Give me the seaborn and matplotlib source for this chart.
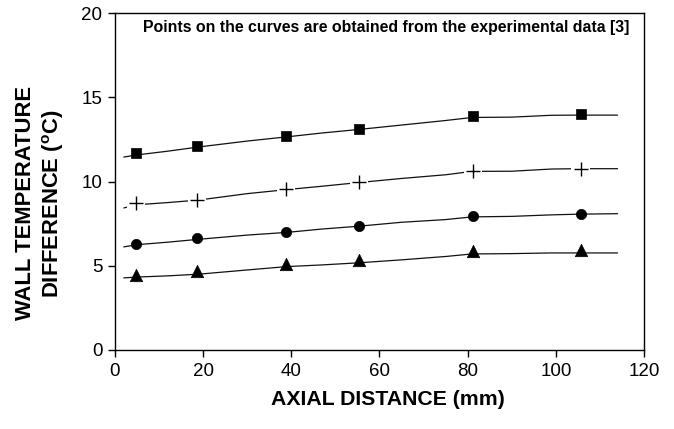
import matplotlib
matplotlib.use("Agg")
import matplotlib.pyplot as plt
import seaborn as sns
import pandas as pd

# Measured points (axial position in mm, wall temperature difference in °C)
axial_pts = [4.8, 18.6, 38.7, 55.3, 81.2, 105.6]
squares = [11.67, 12.08, 12.71, 13.13, 13.86, 14.02]
crosses = [8.70, 8.92, 9.57, 9.97, 10.64, 10.76]
circles = [6.31, 6.63, 7.00, 7.38, 7.93, 8.05]
triangles = [4.47, 4.71, 5.13, 5.32, 5.86, 5.96]

# Computed curves
axial_curve = [2, 5, 12, 19, 30, 39, 47, 55, 65, 75, 81, 90, 99, 105, 114]
curve_sq = [11.45, 11.58, 11.80, 12.05, 12.40, 12.65, 12.88, 13.08, 13.35, 13.62, 13.80, 13.82, 13.93, 13.94, 13.94]
curve_cr = [8.43, 8.62, 8.75, 8.90, 9.28, 9.52, 9.72, 9.93, 10.18, 10.40, 10.60, 10.61, 10.74, 10.76, 10.76]
curve_ci = [6.12, 6.25, 6.40, 6.57, 6.82, 6.98, 7.18, 7.34, 7.58, 7.74, 7.90, 7.93, 8.02, 8.06, 8.09]
curve_tr = [4.28, 4.33, 4.40, 4.50, 4.75, 4.95, 5.05, 5.17, 5.35, 5.55, 5.70, 5.72, 5.76, 5.76, 5.76]

x_ticks = [0, 20, 40, 60, 80, 100, 120]
y_ticks = [0, 5, 10, 15, 20]

sns.set_theme(style="ticks")
plt.rcParams["font.family"] = ["Liberation Sans", "DejaVu Sans"]
plt.rcParams["mathtext.fontset"] = "custom"
plt.rcParams["mathtext.bf"] = "Liberation Sans:bold"
plt.rcParams["mathtext.rm"] = "Liberation Sans"

fig = plt.figure(figsize=(6.74, 4.29), dpi=100)
ax = fig.add_axes([115 / 674, 1 - 350 / 429, 529 / 674, 337 / 429])

curves = pd.DataFrame({"x": axial_curve})
for col, vals in (("sq", curve_sq), ("cr", curve_cr), ("ci", curve_ci), ("tr", curve_tr)):
    curves[col] = vals
    sns.lineplot(data=curves, x="x", y=col, ax=ax, color="#111111", linewidth=0.9,
                 estimator=None, sort=False, zorder=2)

pts = pd.DataFrame({"x": axial_pts, "sq": squares, "cr": crosses,
                    "ci": circles, "tr": triangles})
sns.scatterplot(data=pts, x="x", y="sq", ax=ax, marker="s", s=60, color="black",
                edgecolor="black", linewidth=0.5, zorder=3)
# white backing leaves a small gap in the curve around each cross
sns.scatterplot(data=pts, x="x", y="cr", ax=ax, marker="s", s=170, color="white",
                edgecolor="none", linewidth=0, zorder=3)
sns.scatterplot(data=pts, x="x", y="cr", ax=ax, marker="+", s=100, color="black",
                linewidth=1.0, zorder=4)
sns.scatterplot(data=pts, x="x", y="ci", ax=ax, marker="o", s=55, color="black",
                edgecolor="black", linewidth=0.5, zorder=3)
sns.scatterplot(data=pts, x="x", y="tr", ax=ax, marker="^", s=80, color="black",
                edgecolor="black", linewidth=0.5, zorder=3)

ax.set_xlim(0, 120)
ax.set_ylim(0, 20)
ax.set_xticks(x_ticks)
ax.set_yticks(y_ticks)
ax.set_xticklabels([str(t) for t in x_ticks])
ax.set_yticklabels([str(t) for t in y_ticks])
ax.tick_params(axis="both", direction="out", length=5, width=1, color="black",
               labelsize=13.5, labelcolor="black", pad=4)
for side in ("left", "bottom", "right", "top"):
    ax.spines[side].set_visible(True)
    ax.spines[side].set_color("black")
    ax.spines[side].set_linewidth(1.0)

ax.set_xlabel("AXIAL DISTANCE (mm)", fontsize=15.3, fontweight="bold", color="black")
ax.xaxis.set_label_coords(0.515, -0.12)
ax.set_ylabel("WALL TEMPERATURE\nDIFFERENCE ($\\mathbf{^{o}}$C)", fontsize=15.8,
              fontweight="bold", color="black", linespacing=1.2)
ax.yaxis.set_label_coords(-0.093, 0.435)

ax.text(0.053, 0.958, "Points on the curves are obtained from the experimental data [3]",
        transform=ax.transAxes, fontsize=11.4, fontweight="bold", color="black",
        ha="left", va="center")

fig.savefig("out.png", dpi=100)
